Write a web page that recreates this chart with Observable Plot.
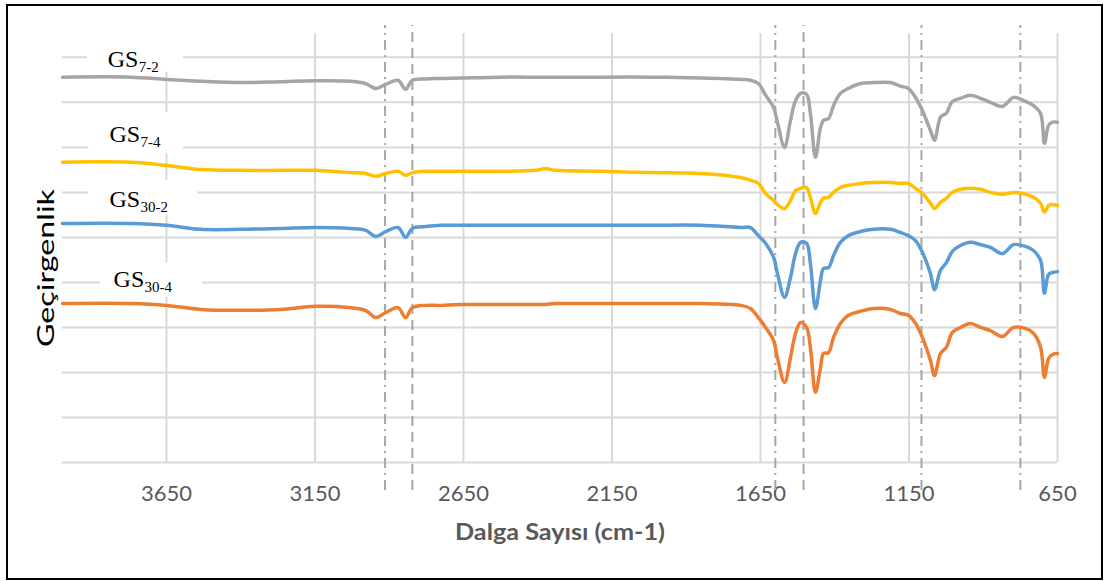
<!DOCTYPE html>
<html>
<head>
<meta charset="utf-8">
<script src="https://cdn.jsdelivr.net/npm/d3@7"></script>
<script src="https://cdn.jsdelivr.net/npm/@observablehq/plot@0.6"></script>
<style>
  body { margin: 0; background: #fff; }
  #chart { position: relative; width: 1105px; height: 581px; }
  #frame { position: absolute; left: 6px; top: 4px; width: 1097px; height: 576px;
           border: 2.5px solid #000; box-sizing: border-box; pointer-events: none; }
</style>
</head>
<body>
<div id="chart"><div id="frame"></div></div>
<script>
// FTIR spectra: wavenumber (cm-1) against transmittance (offset traces)
const wavenumbers = [4000, 3770, 3650, 3535, 3400, 3265, 3150, 3030, 2980, 2945,
  2912, 2870, 2845, 2822, 2778, 2727, 2660, 2525, 2407, 2374,
  2340, 2189, 2020, 1852, 1717, 1684, 1657, 1633, 1606, 1593,
  1569, 1549, 1532, 1515, 1495, 1482, 1465, 1448, 1438, 1421,
  1404, 1381, 1354, 1313, 1270, 1212, 1179, 1152, 1128, 1105,
  1078, 1064, 1044, 1024, 1004, 977, 943, 909, 876, 835,
  798, 758, 731, 707, 694, 680, 667, 650];

const gs7_2 = [85.6, 85.6, 85.1, 84.7, 84.4, 84.6, 84.8, 84.7, 84.2, 83.1,
  84.0, 84.9, 82.9, 84.9, 85.2, 85.3, 85.4, 85.6, 85.6, 85.6,
  85.6, 85.6, 85.6, 85.4, 85.1, 84.9, 84.2, 81.6, 78.9, 75.6,
  70.0, 76.0, 80.4, 82.0, 81.8, 77.6, 67.8, 74.4, 76.0, 76.4,
  79.3, 82.0, 83.1, 84.2, 84.4, 84.4, 83.6, 83.1, 81.1, 78.2,
  73.8, 71.6, 76.7, 77.6, 80.2, 80.9, 81.6, 80.9, 80.0, 79.1,
  81.1, 80.2, 79.3, 77.6, 70.9, 74.9, 75.6, 75.6];

const gs7_4 = [66.7, 66.7, 66.0, 65.1, 64.9, 64.9, 64.9, 64.4, 64.2, 63.6,
  64.2, 64.7, 63.8, 64.4, 64.7, 64.7, 64.7, 64.7, 64.9, 65.3,
  64.9, 64.7, 64.4, 64.2, 63.3, 62.7, 62.0, 59.8, 58.2, 57.3,
  56.4, 58.2, 60.4, 60.9, 61.1, 58.9, 55.3, 57.8, 58.7, 58.9,
  60.0, 61.1, 61.6, 62.0, 62.2, 62.2, 62.0, 62.0, 60.9, 59.8,
  57.6, 56.4, 57.8, 58.7, 60.0, 60.7, 60.9, 60.7, 60.0, 59.6,
  60.0, 59.6, 58.9, 57.6, 55.6, 57.1, 57.3, 57.1];

const gs30_2 = [53.1, 53.1, 52.7, 51.8, 51.8, 52.0, 52.2, 52.0, 51.6, 50.2,
  51.3, 52.2, 50.0, 52.0, 52.4, 52.7, 52.7, 52.7, 52.7, 52.7,
  52.7, 52.7, 52.7, 52.7, 52.2, 52.2, 50.4, 48.7, 45.6, 42.0,
  36.7, 41.1, 46.4, 48.9, 48.7, 44.2, 34.2, 40.4, 43.1, 43.3,
  46.0, 48.9, 50.4, 51.3, 51.8, 51.8, 51.1, 50.4, 49.3, 46.7,
  42.0, 38.4, 42.7, 44.4, 46.9, 48.2, 48.9, 48.4, 47.8, 46.4,
  48.4, 48.0, 47.1, 44.9, 37.6, 41.8, 42.2, 42.4];

const gs30_4 = [35.3, 35.3, 34.9, 34.0, 33.8, 34.0, 34.7, 34.4, 33.8, 32.2,
  33.3, 34.4, 32.2, 34.4, 34.9, 34.9, 35.1, 35.1, 35.1, 35.1,
  35.3, 35.3, 35.3, 35.3, 34.9, 34.2, 32.2, 30.0, 27.1, 23.3,
  17.8, 23.3, 28.7, 31.1, 30.0, 25.6, 15.6, 21.1, 24.2, 24.4,
  27.8, 30.9, 32.7, 33.6, 34.2, 34.0, 33.1, 32.7, 30.9, 27.8,
  22.7, 19.3, 24.2, 25.6, 28.9, 30.0, 30.9, 30.0, 29.3, 28.0,
  30.0, 29.8, 28.7, 25.6, 18.9, 23.1, 24.0, 24.2];

const seriesKeys = ["7-2", "7-4", "30-2", "30-4"];
const seriesColors = ["#a5a5a5", "#ffc000", "#5b9bd5", "#ed7d31"];
const seriesValues = [gs7_2, gs7_4, gs30_2, gs30_4];

const xTicks = [3650, 3150, 2650, 2150, 1650, 1150, 650];
const yGrid = [0, 10, 20, 30, 40, 50, 60, 70, 80, 90];

// reference bands marked with vertical lines
const bandsDashDot = [2914, 1600, 1108, 775];
const bandsDashed = [2822, 1505];

// sample labels (white text boxes) in data coordinates
const labels = [
  {name: "GS", sub: "7-2",  tx: 3848, ty: 87.8, bx1: 3916, bx2: 3593, by1: 86.7, by2: 95.3},
  {name: "GS", sub: "7-4",  tx: 3842, ty: 71.1, bx1: 3912, bx2: 3593, by1: 68.7, by2: 77.8},
  {name: "GS", sub: "30-2", tx: 3842, ty: 56.7, bx1: 3912, bx2: 3545, by1: 54.9, by2: 62.7},
  {name: "GS", sub: "30-4", tx: 3828, ty: 38.9, bx1: 3872, bx2: 3529, by1: 36.7, by2: 44.4}
];

const rows = seriesKeys.flatMap((key, s) =>
  wavenumbers.map((wn, i) => ({series: key, wn, t: seriesValues[s][i]})));

const plot = Plot.plot({
  width: 1105,
  height: 581,
  marginLeft: 62,
  marginRight: 48,
  marginTop: 33,
  marginBottom: 119,
  style: {background: "transparent", overflow: "visible"},
  x: {domain: [4000, 650]},
  y: {domain: [0, 95.3], axis: null},
  color: {domain: seriesKeys, range: seriesColors},
  marks: [
    Plot.gridX(xTicks, {stroke: "#d9d9d9", strokeOpacity: 1, strokeWidth: 2}),
    Plot.gridY(yGrid, {stroke: "#d9d9d9", strokeOpacity: 1, strokeWidth: 2}),
    Plot.axisX(xTicks, {tickSize: 0, tickPadding: 23, fontSize: 22, fill: "#595959",
      fontFamily: "Lato", label: null, tickFormat: d => String(d)}),
    Plot.rect(labels, {x1: "bx1", x2: "bx2", y1: "by1", y2: "by2", fill: "white"}),
    Plot.ruleX(bandsDashDot, {x: d => d, y1: -6.2, y2: 97.1, stroke: "#a6a6a6",
      strokeWidth: 2, strokeDasharray: "10,5,2,5"}),
    Plot.ruleX(bandsDashed, {x: d => d, y1: -6.2, y2: 97.1, stroke: "#a6a6a6",
      strokeWidth: 2, strokeDasharray: "10,6"}),
    Plot.line(rows, {x: "wn", y: "t", z: "series", stroke: "series", strokeWidth: 3.5,
      curve: "catmull-rom", strokeLinejoin: "round", strokeLinecap: "round"}),
    Plot.text(labels, {x: "tx", y: "ty", text: "name", textAnchor: "start", lineAnchor: "bottom",
      fontFamily: "Liberation Serif", fontSize: 24, fill: "#000"}),
    Plot.text(labels, {x: "tx", y: "ty", text: "sub", textAnchor: "start", lineAnchor: "bottom",
      dx: 31, dy: 5, fontFamily: "Liberation Serif", fontSize: 15, fill: "#000"}),
    Plot.text(["Dalga Sayısı (cm-1)"], {frameAnchor: "bottom", lineAnchor: "bottom", dy: 77,
      textAnchor: "middle", fontFamily: "Lato", fontWeight: "bold", fontSize: 22, fill: "#595959",
      className: "xtitle"}),
    Plot.text(["Geçirgenlik"], {frameAnchor: "left", textAnchor: "middle", rotate: -90, dx: -16, dy: 20,
      fontFamily: "Lato", fontSize: 24, fill: "#000", className: "ytitle"})
  ]
});

// axis titles are set in a condensed face stretched to their full width
d3.select(plot).selectAll(".xtitle text").attr("textLength", 210).attr("lengthAdjust", "spacingAndGlyphs");
d3.select(plot).selectAll(".ytitle text").attr("textLength", 158).attr("lengthAdjust", "spacingAndGlyphs");

document.getElementById("chart").prepend(plot);
</script>
</body>
</html>
